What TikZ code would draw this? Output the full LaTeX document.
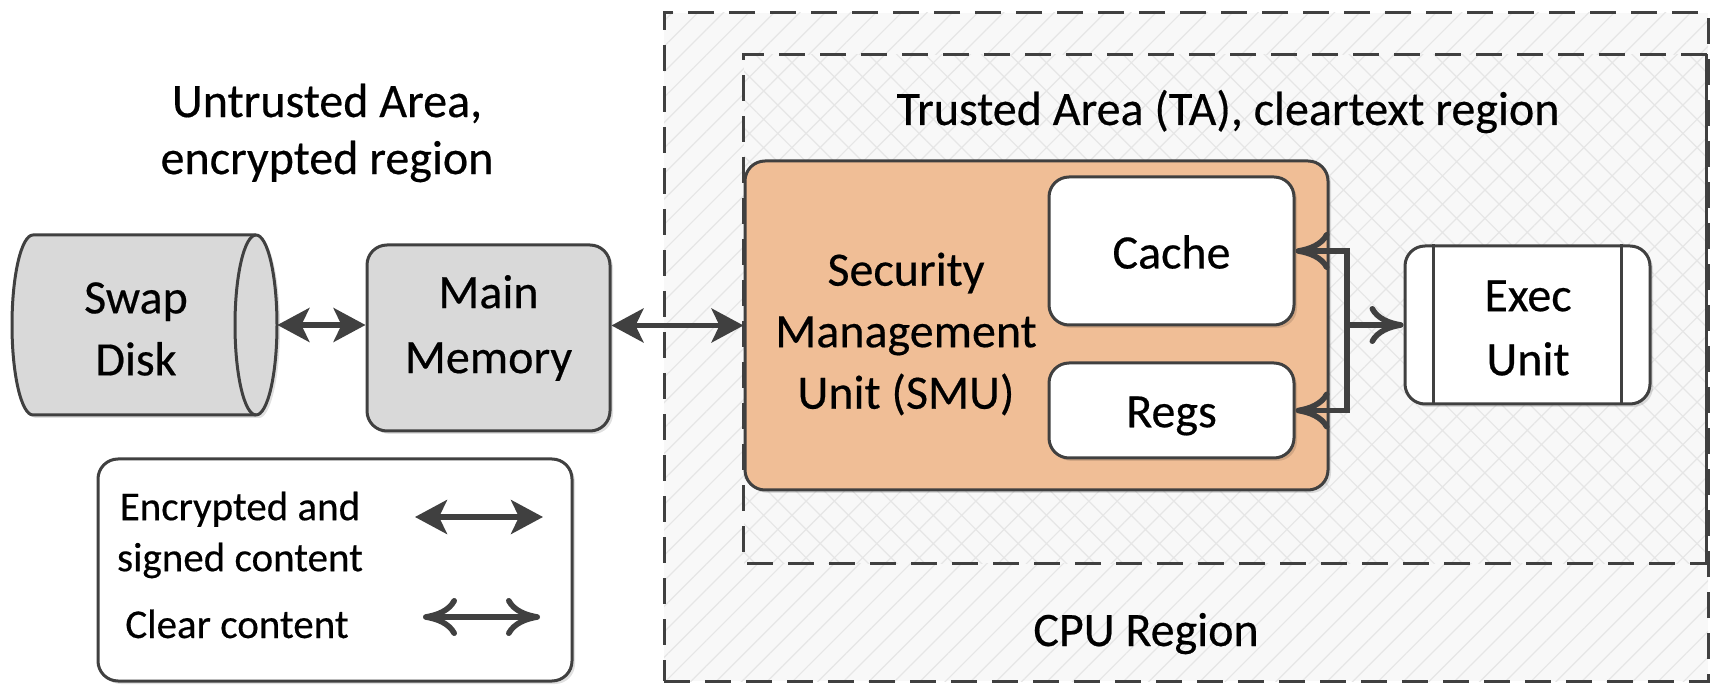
\documentclass[tikz,border=0pt]{standalone}
\usepackage{fontspec}
\setmainfont{Carlito}[FakeBold=0.4]
\usetikzlibrary{arrows.meta,patterns.meta}

\definecolor{ink}{HTML}{404040}
\definecolor{diskgray}{HTML}{D9D9D9}
\definecolor{smupeach}{HTML}{F0BE96}
\definecolor{zonebg}{HTML}{F8F8F8}
\definecolor{hatchc}{HTML}{E6E6E6}

\tikzset{
  x=0.5pt, y=0.5pt,
  box/.style={draw=ink, line width=1.5pt, rounded corners=10pt,
    inner sep=0pt,
    preaction={fill=black, opacity=0.12,
      transform canvas={xshift=1.5pt, yshift=-1.5pt}}},
  bigtext/.style={font=\fontsize{24}{29}\selectfont, align=center, inner sep=0pt},
  legtext/.style={font=\fontsize{20.5}{25.5}\selectfont, align=center, inner sep=0pt},
  zonefill/.style={inner sep=0pt, preaction={fill=zonebg}},
  zoneline/.style={draw=ink, line width=1.5pt, dash pattern=on 13pt off 7.5pt},
  enctip/.tip={Stealth[length=16pt, width=17pt, inset=4pt]},
  cleartip/.tip={To[length=17pt, width=19pt, round]},
  enc/.style={draw=ink, line width=2.6pt, enctip-enctip},
  clear/.style={draw=ink, line width=2.8pt, line join=miter},
}

\begin{document}
\begin{tikzpicture}
\useasboundingbox (0,0) rectangle (1711,685);

% CPU region
\node[zonefill, zoneline, minimum width=522pt, minimum height=334pt,
  pattern={Lines[angle=45, distance=9pt, line width=0.6pt]}, pattern color=hatchc]
  (cpu) at (1186,338) {};
% trusted area: dashed on three sides, solid along the right
\node[zonefill, minimum width=481pt, minimum height=254pt,
  pattern={Hatch[angle=45, distance=10pt, line width=0.6pt]}, pattern color=hatchc]
  (ta) at (1225,376) {};
\draw[zoneline] (ta.north east) -- (ta.north west) -- (ta.south west) -- (ta.south east);
\draw[draw=ink, line width=1.5pt] (ta.south east) -- (ta.north east);

\node[bigtext, anchor=base] (talabel) at (1228,560) {Trusted Area (TA), cleartext region};
\node[bigtext, anchor=base] (cpulabel) at (1146,39) {CPU Region};
\node[bigtext, font=\fontsize{24}{28.5}\selectfont] (ualabel) at (327,552)
  {Untrusted Area,\\encrypted region};

% swap disk, drawn as a lying cylinder
\path[preaction={fill=black, opacity=0.12, transform canvas={xshift=1.5pt, yshift=-1.5pt}},
  fill=diskgray, draw=ink, line width=1.5pt]
  (33,450) -- (256,450)
  arc[start angle=90, end angle=-90, x radius=10.5pt, y radius=45pt]
  -- (33,270)
  arc[start angle=270, end angle=90, x radius=10.5pt, y radius=45pt] -- cycle;
\draw[draw=ink, line width=1.5pt] (256,450)
  arc[start angle=90, end angle=270, x radius=10.5pt, y radius=45pt];
\node[minimum width=132.5pt, minimum height=90pt, inner sep=0pt] (swap) at (144.5,360) {};
\node[bigtext, font=\fontsize{24}{31}\selectfont] (swaplabel) at (136,356) {Swap\\Disk};

% main memory
\node[box, fill=diskgray, minimum width=121.5pt, minimum height=93pt]
  (mem) at (488.5,347) {};
\node[bigtext, font=\fontsize{24}{32.5}\selectfont] (memlabel) at (488.5,357) {Main\\Memory};

% security management unit with cache and registers
\node[box, fill=smupeach, minimum width=291.5pt, minimum height=164.5pt]
  (smu) at (1036.5,359.5) {};
\node[bigtext, font=\fontsize{24}{30.75}\selectfont] (smulabel) at (906,351)
  {Security\\Management\\Unit (SMU)};
\node[box, fill=white, minimum width=122.5pt, minimum height=74pt]
  (cache) at (1171.5,434) {};
\node[bigtext] (cachelabel) at (1171.5,433) {Cache};
\node[box, fill=white, minimum width=122.5pt, minimum height=47.5pt]
  (regs) at (1171.5,274.5) {};
\node[bigtext] (regslabel) at (1171.5,269) {Regs};

% execution unit
\node[box, fill=white, minimum width=122.5pt, minimum height=79pt]
  (exec) at (1527.5,360) {};
\node[bigtext, font=\fontsize{24}{32}\selectfont] (execlabel) at (1528,357) {Exec\\Unit};
\draw[draw=ink, line width=1.5pt]
  ([xshift=15pt]exec.north west) -- ([xshift=15pt]exec.south west)
  ([xshift=-15pt]exec.north east) -- ([xshift=-15pt]exec.south east);

% connectors
\draw[enc] (swap.east) -- (mem.west |- swap.east);
\draw[enc] (mem.east |- smu.west) -- (smu.west);
\coordinate (bus) at (1347,360);
\draw[clear, cleartip-cleartip] (cache.east) -- (bus |- cache.east)
  -- (bus |- regs.east) -- (regs.east);
\draw[clear, -cleartip] (bus) -- (exec.west);

% legend
\node[box, fill=white, minimum width=237pt, minimum height=111pt] (legend) at (335,115) {};
\node[legtext] (lgenc) at (240,150) {Encrypted and\\signed content};
\node[legtext, anchor=base] (lgclear) at (237,47) {Clear content};
\coordinate (e1) at (415,168);
\coordinate (e2) at (543,168);
\coordinate (c1) at (423,68);
\coordinate (c2) at (540,68);
\draw[enc] (e1) -- (e2);
\draw[clear, cleartip-cleartip] (c1) -- (c2);
\end{tikzpicture}
\end{document}
